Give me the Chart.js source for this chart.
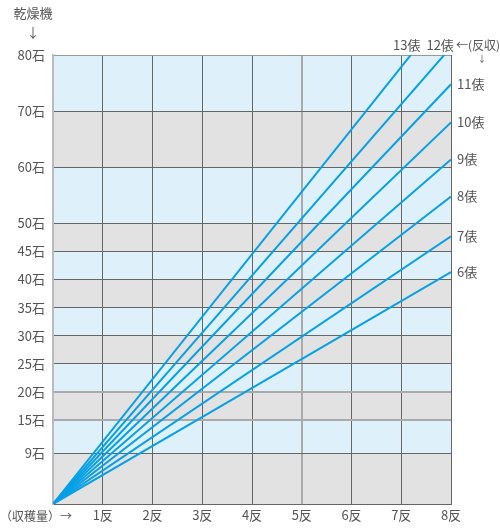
<!DOCTYPE html>
<html lang="ja">
<head>
<meta charset="utf-8">
<script src="https://cdn.jsdelivr.net/npm/chart.js@4/dist/chart.umd.min.js"></script>
<style>
  html, body { margin: 0; padding: 0; background: #fff; }
  #wrap { width: 500px; height: 530px; position: relative; }
</style>
</head>
<body>
<div id="wrap"><canvas id="dryChart"></canvas></div>
<script>
// 反収ごとの直線: 0反 → 8反 の乾燥機石数
const fieldRange = [0, 8];                       // 収穫面積 (反)
const yieldLabels = ['6俵', '7俵', '8俵', '9俵', '10俵', '11俵', '12俵', '13俵'];
const capAt8 = [41.3, 47.7, 54.8, 61.4, 68.0, 74.8, 81.4, 89.0]; // 8反のときの石
const yTicks = [9, 15, 20, 25, 30, 35, 40, 45, 50, 60, 70, 80];
const xTicks = [0, 1, 2, 3, 4, 5, 6, 7, 8];

const FONT = '"Noto Sans CJK JP", "Noto Sans", sans-serif';
const TXT = '#555';
const LINE = '#05a0e6';

// 背景の帯 (下から灰・青 交互)
const bandPlugin = {
  id: 'bands',
  beforeDraw(chart) {
    const { ctx, chartArea: a, scales: { y } } = chart;
    const edges = [0].concat(yTicks);
    ctx.save();
    for (let i = 0; i < edges.length - 1; i++) {
      const top = y.getPixelForValue(edges[i + 1]);
      const bot = y.getPixelForValue(edges[i]);
      ctx.fillStyle = i % 2 === 0 ? '#e2e2e2' : '#def0fa';
      ctx.fillRect(a.left, top, a.right - a.left, bot - top);
    }
    ctx.restore();
  }
};

// 文字 (軸タイトル・反収ラベル)
const labelPlugin = {
  id: 'labels',
  afterDraw(chart) {
    const { ctx, chartArea: a, scales: { x, y } } = chart;
    ctx.save();
    ctx.fillStyle = TXT;
    ctx.font = '13px ' + FONT;
    ctx.textBaseline = 'middle';
    ctx.textAlign = 'center';
    ctx.fillText('乾燥機', 33, 13);
    ctx.fillText('↓', 33, 32);
    ctx.textAlign = 'left';
    ctx.font = '12px ' + FONT;
    ctx.fillText('（収穫量）→', 0, 516);
    ctx.font = '13px ' + FONT;

    capAt8.forEach((v, i) => {
      if (v <= y.max) {
        ctx.fillText(yieldLabels[i], a.right + 6, y.getPixelForValue(v));
      } else {
        const xv = fieldRange[1] * y.max / v;
        ctx.textAlign = 'center';
        ctx.fillText(yieldLabels[i], x.getPixelForValue(xv) - 4, a.top - 10);
        ctx.textAlign = 'left';
      }
    });
    ctx.font = '12px ' + FONT;
    ctx.fillText('←(反収)', 456, a.top - 10);
    ctx.font = '9px ' + FONT;
    ctx.textAlign = 'center';
    ctx.fillText('↓', 482, a.top + 4);
    ctx.restore();
  }
};

const datasets = capAt8.map((v, i) => ({
  label: yieldLabels[i],
  data: [{ x: fieldRange[0], y: 0 }, { x: fieldRange[1], y: v }],
  borderColor: LINE,
  borderWidth: 2,
  pointRadius: 0,
  tension: 0
}));

new Chart(document.getElementById('dryChart'), {
  type: 'line',
  data: { datasets },
  options: {
    responsive: true,
    maintainAspectRatio: false,
    animation: false,
    layout: { padding: { top: 55, right: 49, left: 0, bottom: 0 } },
    plugins: { legend: { display: false }, tooltip: { enabled: false } },
    scales: {
      x: {
        type: 'linear', min: 0, max: 8,
        afterBuildTicks: (s) => { s.ticks = xTicks.map((v) => ({ value: v })); },
        afterFit: (s) => { s.height = 26; },
        ticks: {
          color: TXT, font: { family: FONT, size: 13 }, padding: 3, maxRotation: 0,
          callback: (v) => (v === 0 ? '' : v + '反')
        },
        grid: {
          drawTicks: false,
          color: (c) => (c.tick && c.tick.value === 5 ? '#aaa' : '#666'),
          lineWidth: (c) => (c.tick && c.tick.value === 5 ? 2 : 1)
        },
        border: { color: '#666', width: 1 }
      },
      y: {
        type: 'linear', min: 0, max: 80,
        afterBuildTicks: (s) => { s.ticks = yTicks.map((v) => ({ value: v })); },
        afterFit: (s) => { s.width = 53; },
        ticks: {
          color: TXT, font: { family: FONT, size: 13 }, padding: 8,
          callback: (v) => v + '石'
        },
        grid: {
          drawTicks: false,
          color: (c) => {
            const v = c.tick && c.tick.value;
            if (v === 15 || v === 20) return '#aaa';
            if (v === 80) return '#999';
            return '#666';
          },
          lineWidth: (c) => {
            const v = c.tick && c.tick.value;
            return v === 15 || v === 20 ? 2 : 1;
          }
        },
        border: { color: '#bbb', width: 2 }
      }
    }
  },
  plugins: [bandPlugin, labelPlugin]
});
</script>
</body>
</html>
